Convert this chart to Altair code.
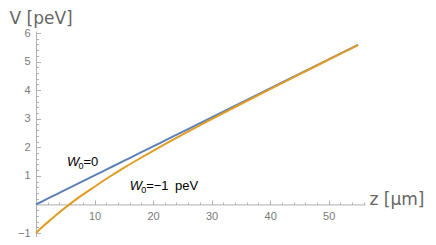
import altair as alt
import pandas as pd

# ---- data ----
z_values = [0, 1.25, 2.5, 3.75, 5, 7.5, 10, 12.5, 15, 17.5, 20, 22.5, 25, 27.5, 30, 35, 40, 45, 50, 55]
v_w0_zero = [0, 0.127, 0.254, 0.381, 0.508, 0.761, 1.015, 1.269, 1.523, 1.776, 2.03, 2.284,
             2.538, 2.791, 3.045, 3.553, 4.06, 4.568, 5.075, 5.583]
v_w0_neg = [-1.0, -0.758, -0.536, -0.319, -0.112, 0.271, 0.62, 0.959, 1.278, 1.581, 1.875, 2.161,
            2.441, 2.714, 2.984, 3.515, 4.036, 4.553, 5.065, 5.577]
series_names = ["W0=0", "W0=-1 peV"]
series_colors = ["#5e81b5", "#e19c24"]

x_label_values = [10, 20, 30, 40, 50]
x_major_ticks = [10, 20, 30, 40, 50]
x_minor_ticks = [2, 4, 6, 8, 12, 14, 16, 18, 22, 24, 26, 28, 32, 34, 36, 38, 42, 44, 46, 48, 52, 54, 56]
y_label_values = [-1, 1, 2, 3, 4, 5, 6]
y_major_ticks = [-1, 1, 2, 3, 4, 5, 6]
y_minor_ticks = [-0.8, -0.6, -0.4, -0.2, 0.2, 0.4, 0.6, 0.8, 1.2, 1.4, 1.6, 1.8,
                 2.2, 2.4, 2.6, 2.8, 3.2, 3.4, 3.6, 3.8, 4.2, 4.4, 4.6, 4.8,
                 5.2, 5.4, 5.6, 5.8]

label_z = [5.3, 16.0]
label_v = [1.49, 0.65]
label_rest = ["=0", "=\u22121\u2002peV"]

X_DOMAIN = [0, 56.2]
Y_DOMAIN = [-1.14, 6.07]
W, H = 329, 206
Y0 = H * (Y_DOMAIN[1] - 0) / (Y_DOMAIN[1] - Y_DOMAIN[0])

AX = "#b0b0b0"
LAB = "#7a7a7a"
FONT = "Liberation Sans"

rows = []
for z, a, b in zip(z_values, v_w0_zero, v_w0_neg):
    rows.append({"z": z, "V": a, "series": series_names[0]})
    rows.append({"z": z, "V": b, "series": series_names[1]})
df = pd.DataFrame(rows)
lab = pd.DataFrame({"z": label_z, "V": label_v, "rest": label_rest})

xs = alt.Scale(domain=X_DOMAIN, nice=False, zero=False)
ys = alt.Scale(domain=Y_DOMAIN, nice=False, zero=False)

lines = alt.Chart(df).mark_line(strokeWidth=2, interpolate="monotone").encode(
    x=alt.X("z:Q", scale=xs, axis=alt.Axis(
        orient="bottom", offset=-(H - Y0), values=x_label_values, tickSize=0, domain=False,
        grid=False, labelPadding=6, labelFontSize=11, labelColor=LAB, labelFont=FONT,
        title="z [\u03bcm]", titleFont="DejaVu Sans", titleFontSize=17, titleFontWeight="normal",
        titleColor="#666666", titleAngle=0, titleX=333, titleY=0, titleAlign="left",
        titleBaseline="alphabetic")),
    y=alt.Y("V:Q", scale=ys, axis=alt.Axis(
        orient="left", values=y_label_values, tickSize=0, domain=False, grid=False,
        labelPadding=6, labelFontSize=11, labelColor=LAB, labelFont=FONT,
        title="V [peV]", titleFont="DejaVu Sans", titleFontSize=17, titleFontWeight="normal",
        titleColor="#666666", titleAngle=0, titleX=-27, titleY=-7.5, titleAlign="left",
        titleBaseline="alphabetic")),
    color=alt.Color("series:N", scale=alt.Scale(domain=series_names, range=series_colors), legend=None),
)

w_text = alt.Chart(lab).mark_text(
    text="W", fontStyle="italic", fontSize=13, align="left", baseline="alphabetic",
    font=FONT, color="#000000", dy=4).encode(
    x=alt.X("z:Q", scale=xs, axis=alt.Axis(
        orient="top", offset=-Y0, values=x_major_ticks, tickSize=4.5, tickColor=AX,
        domain=True, domainColor=AX, labels=False, grid=False, title=None)),
    y=alt.Y("V:Q", scale=ys, axis=alt.Axis(
        orient="right", offset=-W, values=y_major_ticks, tickSize=4.5, tickColor=AX,
        domain=True, domainColor=AX, labels=False, grid=False, title=None)),
)

sub_text = alt.Chart(lab).mark_text(
    text="0", fontSize=9, align="left", baseline="alphabetic",
    font=FONT, color="#000000", dx=11.5, dy=7).encode(
    x=alt.X("z:Q", scale=xs, axis=alt.Axis(
        orient="top", offset=-Y0, values=x_minor_ticks, tickSize=2.5, tickColor=AX,
        domain=False, labels=False, grid=False, title=None)),
    y=alt.Y("V:Q", scale=ys, axis=alt.Axis(
        orient="right", offset=-W, values=y_minor_ticks, tickSize=2.5, tickColor=AX,
        domain=False, labels=False, grid=False, title=None)),
)

rest_text = alt.Chart(lab).mark_text(
    fontSize=13, align="left", baseline="alphabetic",
    font=FONT, color="#000000", dx=16.5, dy=4).encode(
    x=alt.X("z:Q", scale=xs, axis=None),
    y=alt.Y("V:Q", scale=ys, axis=None),
    text="rest:N",
)

chart = alt.layer(lines, w_text, sub_text, rest_text).resolve_axis(
    x="independent", y="independent"
).properties(
    width=W, height=H,
    autosize=alt.AutoSizeParams(type="none"),
    padding={"left": 28, "top": 23, "right": 63, "bottom": 0},
).configure_view(stroke=None)

chart.save("out.html", embed_options={"renderer": "svg", "actions": False})
